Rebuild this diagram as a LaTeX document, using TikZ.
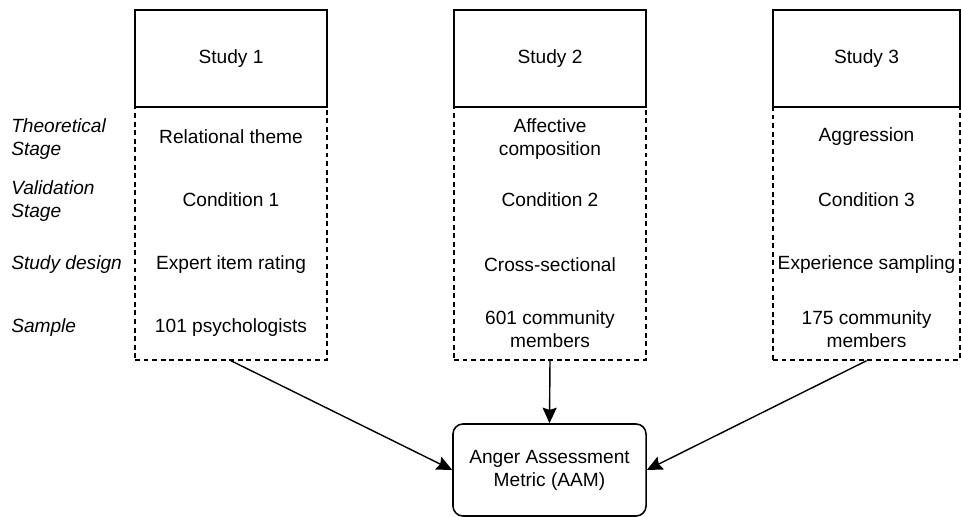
\documentclass[tikz,border=0pt]{standalone}
\usepackage{fontspec}
\setmainfont{Liberation Sans}
\usetikzlibrary{arrows.meta}

\tikzset{
  txt/.style={font=\fontsize{13.6}{16.3}\selectfont, align=center, inner sep=0pt},
  rowlab/.style={font=\fontsize{13.6}{16.3}\selectfont\itshape, align=left, anchor=west, inner sep=0pt},
  head/.style={draw, line width=1.1pt, fill=white, minimum height=2.425cm, inner sep=0pt, txt},
  body/.style={draw, dash pattern=on 3.5pt off 2.6pt, line width=1pt, minimum height=6.325cm, inner sep=0pt},
  aambox/.style={draw, line width=1.1pt, rounded corners=0.25cm, minimum width=4.825cm, minimum height=2.3cm, txt},
  arr/.style={-{Stealth[length=11pt,width=10pt,inset=1.5pt]}, line width=1pt}
}

\begin{document}
\begin{tikzpicture}[x=0.025cm,y=-0.025cm]
  \useasboundingbox (0,0) rectangle (961,517);
  % the three studies
  \foreach \n/\x/\w in {1/231/4.8cm,2/550/4.8cm,3/866.5/4.675cm} {
    \node[body, minimum width=\w] (body\n) at (\x,233.5) {};
    \node[head, minimum width=\w] (study\n) at (\x,58.5) {Study \n};
  }
  % row labels
  \node[rowlab] (theo) at (11,139) {Theoretical\\Stage};
  \node[rowlab] (valid) at (11,201) {Validation\\Stage};
  \node[rowlab] (design) at (11,265) {Study design};
  \node[rowlab] (sample) at (11,328) {Sample};
  % study 1
  \node[txt] (theme1) at (231,137) {Relational theme};
  \node[txt] (cond1) at (231,200) {Condition 1};
  \node[txt] (design1) at (231,265) {Expert item rating};
  \node[txt] (sample1) at (231,328) {101 psychologists};
  % study 2
  \node[txt] (theme2) at (550,139) {Affective\\composition};
  \node[txt] (cond2) at (550,200) {Condition 2};
  \node[txt] (design2) at (550,265) {Cross-sectional};
  \node[txt] (sample2) at (550,329.5) {601 community\\members};
  % study 3
  \node[txt] (theme3) at (866.5,137) {Aggression};
  \node[txt] (cond3) at (866.5,200) {Condition 3};
  \node[txt] (design3) at (866.5,265) {Experience sampling};
  \node[txt] (sample3) at (866.5,329.5) {175 community\\members};
  % outcome
  \node[aambox] (aam) at (549.5,470) {Anger Assessment\\Metric (AAM)};
  \draw[arr] (body1.south) -- (aam.west);
  \draw[arr] (body2.south) -- (aam.north);
  \draw[arr] (body3.south) -- (aam.east);
\end{tikzpicture}
\end{document}
